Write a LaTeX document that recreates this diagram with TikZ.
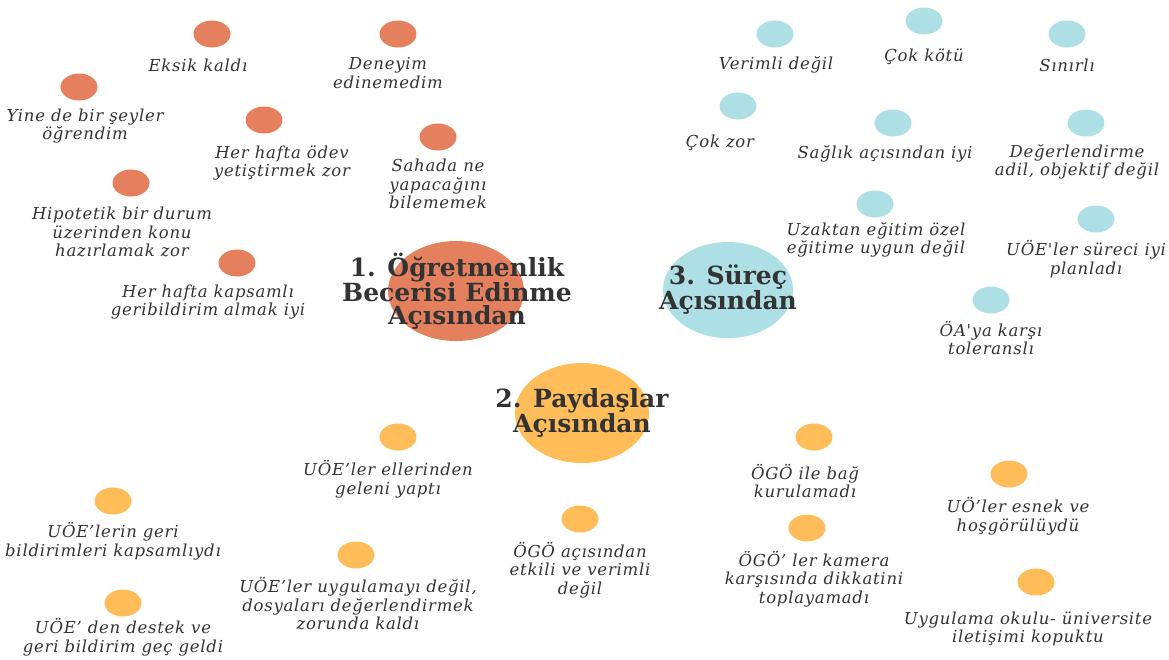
\documentclass[tikz,border=0pt]{standalone}
\usepackage{fontspec}
\setmainfont{DejaVu Serif}
\newfontfamily\lblfont{DejaVu Serif}[LetterSpace=4.5]
\usetikzlibrary{shapes.geometric}
\definecolor{corange}{HTML}{E5805F}
\definecolor{cblue}{HTML}{AEDFE5}
\definecolor{cyellow}{HTML}{FFBD59}
\definecolor{txt}{HTML}{333333}
\tikzset{
  dot/.style={ellipse, fill=#1, minimum width=37pt, minimum height=27pt, inner sep=0pt},
  hub/.style={ellipse, fill=#1, inner sep=0pt},
  lbl/.style={font=\lblfont\itshape\fontsize{16.5}{18.5}\selectfont, text=txt, align=center, inner sep=0pt},
  ttl/.style={font=\bfseries\fontsize{25}{23}\selectfont, text=txt, align=center, inner sep=0pt}
}
\begin{document}
\begin{tikzpicture}[x=1pt,y=-1pt]
\useasboundingbox (0,0) rectangle (1169,659);
\clip (0,0) rectangle (1169,659);
% hubs
\node[hub=corange, minimum width=136pt, minimum height=100pt] (h1) at (456,291) {};
\node[hub=cblue, minimum width=130pt, minimum height=96pt] (h3) at (728,290) {};
\node[hub=cyellow, minimum width=134pt, minimum height=100pt] (h2) at (582,413) {};
\node[ttl] (t1) at (457,291) {1. Öğretmenlik\\Becerisi Edinme\\Açısından};
\node[ttl] (t3) at (728,290) {3. Süreç\\Açısından};
\node[ttl] (t2) at (582,413) {2. Paydaşlar\\Açısından};
% orange group
\node[dot=corange] (o1) at (212,34) {};
\node[lbl] (lo1) at (198,65) {Eksik kaldı};
\node[dot=corange] (o2) at (398,34) {};
\node[lbl] (lo2) at (388,73) {Deneyim\\edinemedim};
\node[dot=corange] (o3) at (79,87) {};
\node[lbl] (lo3) at (85,126) {Yine de bir şeyler\\öğrendim};
\node[dot=corange] (o4) at (264,120) {};
\node[lbl] (lo4) at (282,163) {Her hafta ödev\\yetiştirmek zor};
\node[dot=corange] (o5) at (438,137) {};
\node[lbl] (lo5) at (438,184) {Sahada ne\\yapacağını\\bilememek};
\node[dot=corange] (o6) at (131,183) {};
\node[lbl] (lo6) at (122,232) {Hipotetik bir durum\\üzerinden konu\\hazırlamak zor};
\node[dot=corange] (o7) at (237,263) {};
\node[lbl] (lo7) at (208,302) {Her hafta kapsamlı\\geribildirim almak iyi};
% blue group
\node[dot=cblue] (b1) at (775,34) {};
\node[lbl] (lb1) at (776,65) {Verimli değil};
\node[dot=cblue] (b2) at (924,21) {};
\node[lbl] (lb2) at (924,57) {Çok kötü};
\node[dot=cblue] (b3) at (1067,34) {};
\node[lbl] (lb3) at (1067,65) {Sınırlı};
\node[dot=cblue] (b4) at (738,106) {};
\node[lbl] (lb4) at (720,143) {Çok zor};
\node[dot=cblue] (b5) at (893,123) {};
\node[lbl] (lb5) at (885,154) {Sağlık açısından iyi};
\node[dot=cblue] (b6) at (1086,123) {};
\node[lbl] (lb6) at (1077,162) {Değerlendirme\\adil, objektif değil};
\node[dot=cblue] (b7) at (875,204) {};
\node[lbl] (lb7) at (876,240) {Uzaktan eğitim özel\\eğitime uygun değil};
\node[dot=cblue] (b8) at (1096,219) {};
\node[lbl] (lb8) at (1086,259) {UÖE'ler süreci iyi\\planladı};
\node[dot=cblue] (b9) at (991,300) {};
\node[lbl] (lb9) at (991,338) {ÖA'ya karşı\\toleranslı};
% yellow group
\node[dot=cyellow] (y1) at (398,437) {};
\node[lbl] (ly1) at (388,479) {UÖE’ler ellerinden\\geleni yaptı};
\node[dot=cyellow] (y2) at (113,501) {};
\node[lbl] (ly2) at (113,541) {UÖE’lerin geri\\bildirimleri kapsamlıydı};
\node[dot=cyellow] (y3) at (123,603) {};
\node[lbl] (ly3) at (123,637) {UÖE’ den destek ve\\geri bildirim geç geldi};
\node[dot=cyellow] (y4) at (356,555) {};
\node[lbl] (ly4) at (358,604) {UÖE’ler uygulamayı değil,\\dosyaları değerlendirmek\\zorunda kaldı};
\node[dot=cyellow] (y5) at (580,519) {};
\node[lbl] (ly5) at (580,570) {ÖGÖ açısından\\etkili ve verimli\\değil};
\node[dot=cyellow] (y6) at (814,437) {};
\node[lbl] (ly6) at (805,481) {ÖGÖ ile bağ\\kurulamadı};
\node[dot=cyellow] (y7) at (807,528) {};
\node[lbl] (ly7) at (814,579) {ÖGÖ’ ler kamera\\karşısında dikkatini\\toplayamadı};
\node[dot=cyellow] (y8) at (1009,474) {};
\node[lbl] (ly8) at (1018,516) {UÖ’ler esnek ve\\hoşgörülüydü};
\node[dot=cyellow] (y9) at (1036,582) {};
\node[lbl] (ly9) at (1028,629) {Uygulama okulu- üniversite\\iletişimi kopuktu};
\end{tikzpicture}
\end{document}
